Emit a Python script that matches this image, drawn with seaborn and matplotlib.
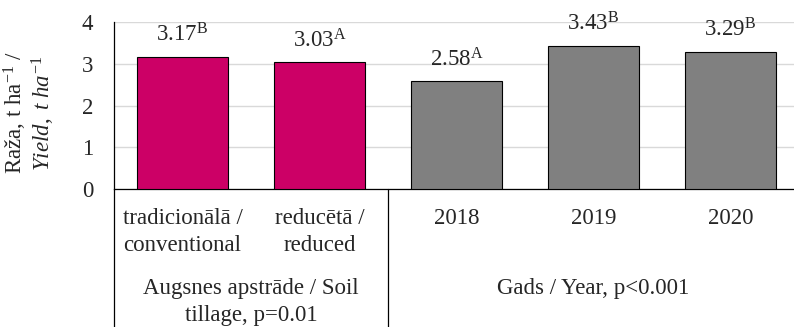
import matplotlib
matplotlib.use("Agg")
import matplotlib.pyplot as plt
import matplotlib.transforms as mtransforms
import seaborn as sns

categories = ["tradicionālā /\nconventional", "reducētā /\nreduced", "2018", "2019", "2020"]
values = [3.17, 3.03, 2.58, 3.43, 3.29]
letters = ["B", "A", "A", "B", "B"]
bar_colors = ["#CC0066", "#CC0066", "#808080", "#808080", "#808080"]
group_labels = ["Augsnes apstrāde / Soil\ntillage, p=0.01", "Gads / Year, p<0.001"]
group_spans = [(-0.5, 1.5), (1.5, 4.5)]
y_ticks = [0, 1, 2, 3, 4]

sns.set_theme(style="white")
plt.rcParams["font.family"] = ["Liberation Serif", "DejaVu Serif"]
plt.rcParams["mathtext.fontset"] = "custom"
plt.rcParams["mathtext.rm"] = "Liberation Serif"
plt.rcParams["mathtext.it"] = "Liberation Serif:italic"
plt.rcParams["mathtext.bf"] = "Liberation Serif:bold"

W, H = 794, 327
fig = plt.figure(figsize=(W / 100, H / 100), dpi=100)
ax = fig.add_axes([114 / W, (H - 189) / H, 685 / W, 167 / H])

FS = 16.5
palette = dict(zip(categories, bar_colors))
sns.barplot(x=categories, y=values, hue=categories, palette=palette, order=categories,
            hue_order=categories, width=0.67, edgecolor="black", linewidth=0.8,
            saturation=1, legend=False, ax=ax, zorder=3)

ax.set_xlim(-0.5, 4.5)
ax.set_ylim(0, 4)
ax.set_yticks(y_ticks)
ax.set_yticklabels([str(t) for t in y_ticks], fontsize=FS)
ax.tick_params(axis="y", length=0, pad=15)
ax.tick_params(axis="x", length=0, pad=13.5, labelsize=FS)
for t in ax.get_xticklabels():
    t.set_linespacing(1.4)
ax.set_xlabel("")
ax.set_ylabel("")
ax.yaxis.grid(True, color="#D9D9D9", linewidth=1.0, zorder=0)
ax.set_axisbelow(True)
for s in ["top", "right"]:
    ax.spines[s].set_visible(False)
for s in ["left", "bottom"]:
    ax.spines[s].set_color("black")
    ax.spines[s].set_linewidth(0.9)

for i, (v, l) in enumerate(zip(values, letters)):
    ax.annotate(f"{v:.2f}" + r"$^{\mathrm{" + l + "}}$", (i, v), xytext=(0, 10.8),
                textcoords="offset points", ha="center", va="baseline", fontsize=FS)

trans = mtransforms.blended_transform_factory(ax.transData, ax.transAxes)
for xs in [-0.5, 1.5, 4.5]:
    ax.plot([xs, xs], [0, -0.95], transform=trans, color="black", linewidth=0.9,
            clip_on=False)

for lab, (a, b) in zip(group_labels, group_spans):
    fig.text(ax.transData.transform(((a + b) / 2, 0))[0] / W, 1 - 278 / H, lab,
             ha="center", va="top", fontsize=FS, linespacing=1.4)

fig.text(15 / W, 1 - 113 / H, r"Raža, t ha$^{-1}$ /", rotation=90, ha="center",
         va="center", fontsize=FS)
fig.text(43 / W, 1 - 113 / H, r"$\mathit{Yield,\ t\ ha^{-1}}$", rotation=90,
         ha="center", va="center", fontsize=FS)

fig.savefig("out.png", dpi=100)
